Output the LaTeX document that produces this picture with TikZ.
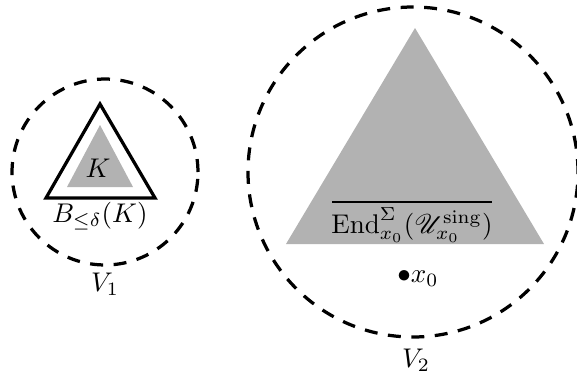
\documentclass[tikz,border=0pt]{standalone}
\usepackage{mathrsfs}
\begin{document}
\begin{tikzpicture}[x=0.37pt,y=-0.37pt,
  region/.style={draw=black,line width=1.2pt,dash pattern=on 4.8pt off 3.9pt},
  grayset/.style={fill=black!30,draw=none},
  ball/.style={draw=black,line width=1.2pt,line join=miter},
  lbl/.style={inner sep=0pt,anchor=base}]
\useasboundingbox (0,0) rectangle (577,375);
% V1
\draw[region] (105,172) circle[radius=34.4pt];
\draw[ball] (100,104) -- (46,198) -- (155,198) -- cycle;
\fill[grayset] (100,125) -- (67,187) -- (133,187) -- cycle;
\node[lbl] (K) at (98,177) {$K$};
\node[lbl] (B) at (100,222) {$B_{\leq\delta}(K)$};
\node[lbl] (V1) at (105,291) {$V_1$};
% V2
\draw[region] (413,172) circle[radius=61.05pt];
\fill[grayset] (415,28) -- (286,244) -- (544,244) -- cycle;
\draw[line width=1pt] (332,202) -- (492,202);
\node[lbl] (E) at (412,233) {$\mathrm{End}^{\Sigma}_{x_0}(\mathscr{U}^{\mathrm{sing}}_{x_0})$};
\node[lbl] (x0) at (418,282) {$\bullet x_0$};
\node[lbl] (V2) at (416,367) {$V_2$};
\end{tikzpicture}
\end{document}
